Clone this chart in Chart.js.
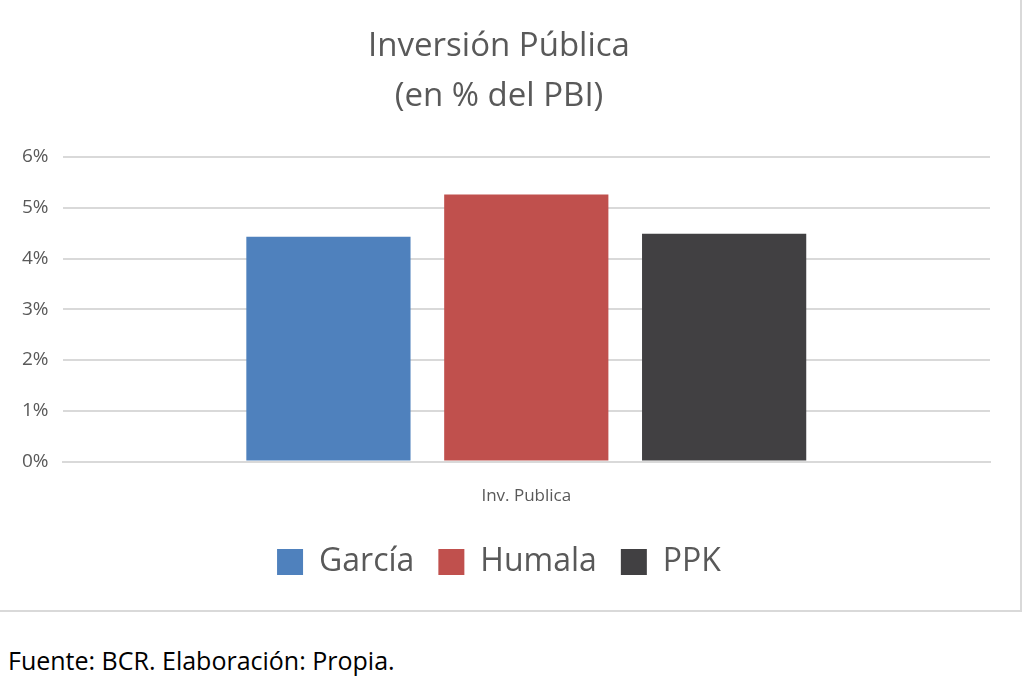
<!DOCTYPE html>
<html lang="es">
<head>
<meta charset="UTF-8">
<title>Inversión Pública</title>
<style>
    body { margin: 0; background: #fff; font-family: 'Open Sans', sans-serif; }
    .box { position: absolute; left: -2px; top: -2px; width: 1020px; height: 610px; border: 2px solid #d9d9d9; }
    .fuente { position: absolute; left: 8px; top: 643px; font-size: 25px; color: #000; }
</style>
</head>
<body>
<div class="box"><canvas id="chart" width="1020" height="610"></canvas></div>
<div class="fuente">Fuente: BCR. Elaboración: Propia.</div>
<script src="https://cdn.jsdelivr.net/npm/chart.js"></script>
<script>
    // datos
    const categorias = ['Inv. Publica'];
    const series = ['García', 'Humala', 'PPK'];
    const valores = [4.43, 5.26, 4.49];
    const colores = ['#4f81bd', '#c0504d', '#414042'];

    const gris = '#595959';
    new Chart(document.getElementById('chart'), {
        type: 'bar',
        data: {
            labels: categorias,
            datasets: series.map((s, i) => ({
                label: s,
                data: [valores[i]],
                backgroundColor: colores[i],
                categoryPercentage: 0.64,
                barPercentage: 0.83
            }))
        },
        options: {
            responsive: false,
            animation: false,
            layout: { padding: { left: 8, right: 30, top: 10, bottom: 22 } },
            plugins: {
                title: {
                    display: true,
                    text: ['Inversión Pública', '(en % del PBI)'],
                    color: gris,
                    font: { family: 'Open Sans', size: 33, weight: 'normal', lineHeight: 1.5 },
                    padding: { top: 12, bottom: 36 }
                },
                legend: {
                    position: 'bottom',
                    labels: {
                        color: gris,
                        font: { family: 'Open Sans', size: 32 },
                        boxWidth: 26, boxHeight: 26, padding: 24
                    }
                },
                tooltip: { enabled: false }
            },
            scales: {
                x: {
                    grid: { display: false },
                    border: { color: '#d9d9d9', width: 2 },
                    ticks: { color: gris, font: { family: 'Open Sans', size: 17 }, padding: 16 }
                },
                y: {
                    min: 0, max: 6,
                    ticks: { stepSize: 1, color: gris, font: { family: 'Open Sans', size: 19 }, padding: 14,
                             callback: v => v + '%' },
                    grid: { color: '#d9d9d9', lineWidth: 2, drawTicks: false },
                    border: { display: false }
                }
            }
        }
    });
</script>
</body>
</html>
